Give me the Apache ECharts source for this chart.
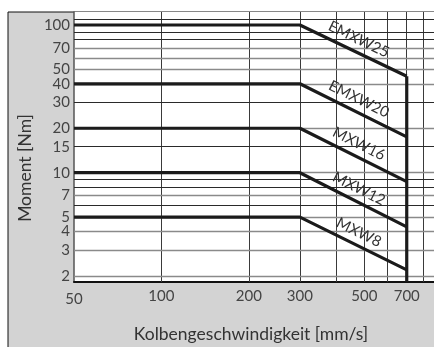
<!DOCTYPE html>
<html>
<head>
<meta charset="utf-8">
<script src="https://cdn.jsdelivr.net/npm/echarts@6/dist/echarts.min.js"></script>
<style>
  html, body { margin: 0; padding: 0; background: #fff; }
  #chart { width: 434px; height: 347px; }
</style>
</head>
<body>
<div id="chart"></div>
<script>
// Axis ticks and raster lines
const speedTicks = [50, 100, 200, 300, 500, 700];
const momentTicks = [2, 3, 4, 5, 7, 10, 15, 20, 30, 40, 50, 70, 100];
const speedGrid = [100, 200, 300, 400, 500, 600, 700, 800];
const momentGridDark = [110, 90, 80, 30, 15, 9, 8, 6];
const momentGridLight = [70, 60, 50, 40, 20, 10, 7, 5, 4, 3, 2];

// Permissible moment per model: constant up to 300 mm/s, falling to 700 mm/s
const models = ['EMXW25', 'EMXW20', 'MXW16', 'MXW12', 'MXW8'];
const plateauSpeed = [50, 300];
const limitSpeed = 700;
const plateauMoment = [100, 40, 20, 10, 5];
const limitMoment = [45, 17.5, 8.7, 4.3, 2.2];

const speedRange = [50, 869];
const momentRange = [1.82, 122.5];

const FONT = 'Lato, "Open Sans", sans-serif';
const INK = '#1b1b1b';

const chart = echarts.init(document.getElementById('chart'), null, { renderer: 'canvas' });

const rasterLines = [];
speedGrid.forEach(v => rasterLines.push({ xAxis: v, lineStyle: { color: '#3a3a3a', width: 1, type: 'solid' } }));
momentGridDark.forEach(v => rasterLines.push({ yAxis: v, lineStyle: { color: '#2a2a2a', width: 1, type: 'solid' } }));
momentGridLight.forEach(v => rasterLines.push({ yAxis: v, lineStyle: { color: '#8a8a8a', width: 1.3, type: 'solid' } }));

const series = [{
  name: 'raster',
  type: 'line',
  data: [[speedRange[0], momentRange[0]]],
  symbol: 'none',
  lineStyle: { width: 0 },
  silent: true,
  z: 1,
  markLine: {
    silent: true,
    symbol: ['none', 'none'],
    label: { show: false },
    animation: false,
    data: rasterLines
  }
}];

models.forEach((name, i) => {
  const p = plateauMoment[i];
  const e = limitMoment[i];
  series.push({
    name: name,
    type: 'line',
    data: [[plateauSpeed[0], p], [plateauSpeed[1], p], [limitSpeed, e]],
    symbol: 'none',
    lineStyle: { color: INK, width: 3.2 },
    z: 5,
    markLine: {
      silent: true,
      symbol: ['none', 'none'],
      animation: false,
      lineStyle: { color: 'rgba(0,0,0,0)', width: 1, type: 'solid' },
      label: {
        show: true,
        position: 'insideMiddleTop',
        distance: 5,
        formatter: name,
        color: '#333',
        fontFamily: FONT,
        fontSize: 15
      },
      data: [[{ coord: [plateauSpeed[1], p] }, { coord: [limitSpeed, e] }]]
    }
  });
});

// Vertical speed limit at 700 mm/s
series.push({
  name: 'limit',
  type: 'line',
  data: [[limitSpeed, momentRange[0]], [limitSpeed, limitMoment[0]]],
  symbol: 'none',
  lineStyle: { color: INK, width: 3.2 },
  z: 5
});

chart.setOption({
  animation: false,
  backgroundColor: '#fff',
  grid: {
    left: 74, top: 12, right: 0, bottom: 65,
    show: true, backgroundColor: '#fff', borderWidth: 0
  },
  graphic: [
    {
      type: 'rect', z: -10, silent: true,
      shape: { x: 8, y: 12, width: 430, height: 340 },
      style: { fill: '#d3d3d3', stroke: '#111', lineWidth: 1 }
    },
    {
      type: 'text', x: 25, y: 168, rotation: Math.PI / 2, silent: true,
      style: { text: 'Moment [Nm]', font: '17.5px ' + FONT, fill: '#333', align: 'center', verticalAlign: 'middle' }
    },
    {
      type: 'text', x: 251, y: 334, silent: true,
      style: { text: 'Kolbengeschwindigkeit [mm/s]', font: '17.5px ' + FONT, fill: '#333', align: 'center', verticalAlign: 'middle' }
    }
  ],
  xAxis: {
    type: 'log', logBase: 10,
    min: speedRange[0], max: speedRange[1],
    axisLine: { show: true, lineStyle: { color: '#111', width: 2 } },
    axisTick: { show: false },
    splitLine: { show: false },
    minorSplitLine: { show: false },
    axisLabel: {
      customValues: speedTicks,
      margin: 7,
      color: '#444', fontFamily: FONT, fontSize: 15,
      formatter: v => (v === speedTicks[0] ? '{low|' + v + '}' : String(v)),
      rich: { low: { padding: [3, 0, 0, 0], color: '#444', fontFamily: FONT, fontSize: 15 } }
    }
  },
  yAxis: {
    type: 'log', logBase: 10,
    min: momentRange[0], max: momentRange[1],
    axisLine: { show: true, lineStyle: { color: '#555', width: 1.5 } },
    axisTick: { show: false },
    splitLine: { show: false },
    axisLabel: {
      customValues: momentTicks,
      margin: 4,
      color: '#444', fontFamily: FONT, fontSize: 15,
      formatter: v => String(v)
    }
  },
  series: series
});
</script>
</body>
</html>
